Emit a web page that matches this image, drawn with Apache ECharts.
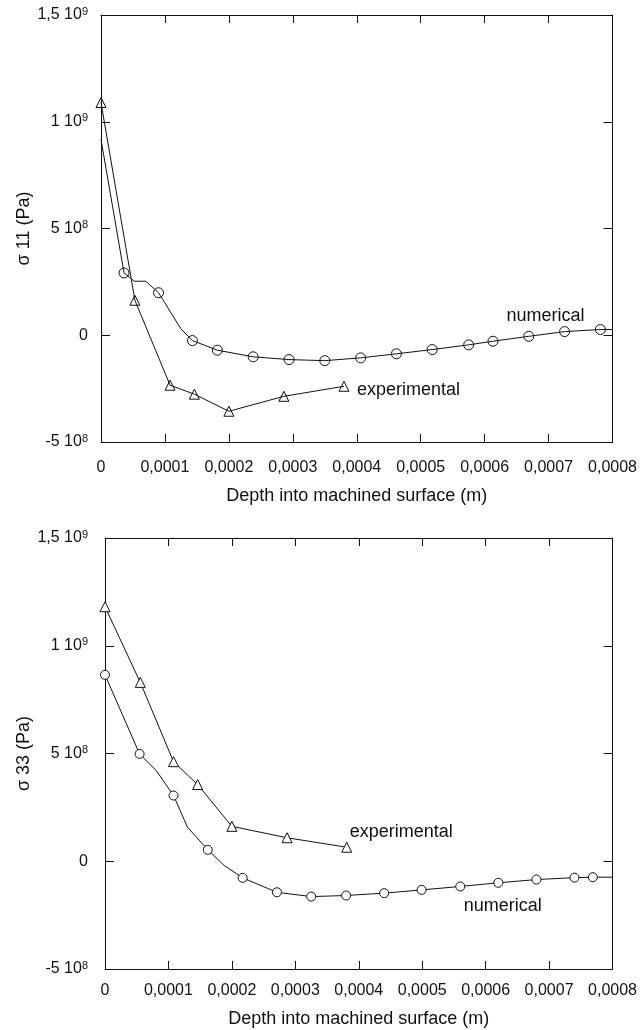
<!DOCTYPE html>
<html>
<head>
<meta charset="utf-8" />
<title>sigma 11 / sigma 33</title>
<script src="https://cdn.jsdelivr.net/npm/echarts@6/dist/echarts.min.js"></script>
<style>
  html, body { margin: 0; padding: 0; background: #fff; }
  #main { width: 640px; height: 1030px; }
</style>
</head>
<body>
<div id="main"></div>
<script type="text/javascript">
// ---- data ----
// top chart: sigma 11
var expX1 = [0, 0.000053, 0.000108, 0.000146, 0.0002, 0.000286, 0.00038];
var expY1 = [1.09e9, 1.64e8, -2.34e8, -2.76e8, -3.56e8, -2.86e8, -2.39e8];
var numX1 = [0, 0.000036, 0.000052, 0.000070, 0.00009, 0.000125, 0.000143, 0.000182, 0.000238, 0.000294, 0.00035, 0.000406, 0.000462, 0.000518, 0.000575, 0.000613, 0.000669, 0.000725, 0.000781, 0.0008];
var numY1 = [9.17e8, 2.92e8, 2.53e8, 2.53e8, 1.99e8, 3e7, -2.5e7, -7e7, -1.01e8, -1.14e8, -1.19e8, -1.06e8, -8.7e7, -6.7e7, -4.5e7, -2.8e7, -5e6, 1.7e7, 2.7e7, 2.7e7];
var numMark1 = [0, 1, 0, 0, 1, 0, 1, 1, 1, 1, 1, 1, 1, 1, 1, 1, 1, 1, 1, 0];

// bottom chart: sigma 33
var expX2 = [0, 0.0000556, 0.000108, 0.000146, 0.0002, 0.000287, 0.000381];
var expY2 = [1.181e9, 8.30e8, 4.62e8, 3.56e8, 1.62e8, 1.09e8, 6.5e7];
var numX2 = [0, 0.0000545, 0.000081, 0.000108, 0.00013, 0.000162, 0.000188, 0.000217, 0.000271, 0.000325, 0.00038, 0.00044, 0.000499, 0.00056, 0.00062, 0.00068, 0.00074, 0.000769, 0.0008];
var numY2 = [8.65e8, 4.98e8, 4.2e8, 3.05e8, 1.58e8, 5.3e7, -2e7, -7.7e7, -1.44e8, -1.64e8, -1.59e8, -1.48e8, -1.33e8, -1.17e8, -1.0e8, -8.5e7, -7.6e7, -7.4e7, -7.4e7];
var numMark2 = [1, 1, 0, 1, 0, 1, 0, 1, 1, 1, 1, 1, 1, 1, 1, 1, 1, 1, 0];

// tick labels
var xTickLabels = ['0', '0,0001', '0,0002', '0,0003', '0,0004', '0,0005', '0,0006', '0,0007', '0,0008'];
var yTickValues = [-5e8, 0, 5e8, 1e9, 1.5e9];
var yTickMant = ['-5 10', '0', '5 10', '1 10', '1,5 10'];
var yTickExp = ['8', '', '8', '9', '9'];

// ---- chart ----
var FONT = '"Liberation Sans", Arial, Helvetica, sans-serif';
var INK = '#111';

function pairs(xs, ys, marks) {
	return xs.map(function (x, i) {
		var item = { value: [x, ys[i]] };
		if (marks && !marks[i]) item.symbol = 'none';
		return item;
	});
}

function xLabel(v) {
	return xTickLabels[Math.round(v / 0.0001)];
}

function yLabel(v) {
	for (var i = 0; i < yTickValues.length; i++) {
		if (Math.abs(v - yTickValues[i]) < 1) {
			return yTickExp[i] ? '{m|' + yTickMant[i] + '}{s|' + yTickExp[i] + '}' : '{m|' + yTickMant[i] + '}';
		}
	}
	return '';
}

function xAxes(gridIndex, labelMargin, nameGap) {
	var common = {
		gridIndex: gridIndex,
		type: 'value',
		min: 0,
		max: 0.0008,
		interval: 0.0001,
		splitLine: { show: false },
		axisLine: { onZero: false, lineStyle: { color: INK, width: 1 } },
		axisTick: { inside: true, length: 8, lineStyle: { color: INK } }
	};
	return [
		Object.assign({}, common, {
			position: 'bottom',
			name: 'Depth into machined surface (m)',
			nameLocation: 'middle',
			nameGap: nameGap,
			nameMoveOverlap: false,
			nameTextStyle: { color: INK, fontSize: 18, fontFamily: FONT },
			axisLabel: {
				color: INK, fontSize: 16, fontFamily: FONT, margin: labelMargin,
				formatter: xLabel, showMinLabel: true, showMaxLabel: true
			}
		}),
		Object.assign({}, common, { position: 'top', axisLabel: { show: false } })
	];
}

function yAxes(gridIndex, name, labelMargin, nameGap) {
	var common = {
		gridIndex: gridIndex,
		type: 'value',
		min: -5e8,
		max: 1.5e9,
		interval: 5e8,
		splitLine: { show: false },
		axisLine: { onZero: false, lineStyle: { color: INK, width: 1 } },
		axisTick: { inside: true, length: 9, lineStyle: { color: INK } }
	};
	return [
		Object.assign({}, common, {
			position: 'left',
			name: name,
			nameLocation: 'middle',
			nameRotate: 90,
			nameGap: nameGap,
			nameMoveOverlap: false,
			nameTextStyle: { color: INK, fontSize: 18, fontFamily: FONT },
			axisLabel: {
				margin: labelMargin,
				formatter: yLabel,
				rich: {
					m: { color: INK, fontSize: 16, fontFamily: FONT },
					s: { color: INK, fontSize: 11, fontFamily: FONT, padding: [0, 0, 7, 0] }
				}
			}
		}),
		Object.assign({}, common, { position: 'right', axisLabel: { show: false } })
	];
}

function note(text, coord) {
	return {
		coord: coord,
		name: text,
		symbol: 'circle',
		symbolSize: 1,
		itemStyle: { color: 'transparent' },
		label: { show: true, position: 'inside', formatter: text, color: INK, fontSize: 18, fontFamily: FONT }
	};
}

function lineSeries(xi, yi, data, symbol, size, fill, notes) {
	return {
		type: 'line',
		xAxisIndex: xi,
		yAxisIndex: yi,
		data: data,
		symbol: symbol,
		symbolSize: size,
		showAllSymbol: true,
		lineStyle: { color: INK, width: 1 },
		itemStyle: { color: fill, borderColor: INK, borderWidth: 1 },
		emphasis: { disabled: true },
		markPoint: { silent: true, data: notes }
	};
}

var myChart = echarts.init(document.getElementById('main'), null, { renderer: 'canvas' });

var option = {
	animation: false,
	backgroundColor: '#fff',
	grid: [
		{ left: 101, top: 15, right: 27, bottom: 588 },
		{ left: 105, top: 538, right: 25, bottom: 61 }
	],
	xAxis: xAxes(0, 18, 45).concat(xAxes(1, 14, 41)),
	yAxis: yAxes(0, 'σ 11 (Pa)', 13, 68).concat(yAxes(1, 'σ 33 (Pa)', 17, 72)),
	series: [
		lineSeries(0, 0, pairs(expX1, expY1), 'triangle', 10, 'none',
			[note('experimental', [0.000481, -2.58e8])]),
		lineSeries(0, 0, pairs(numX1, numY1, numMark1), 'circle', 10, 'none',
			[note('numerical', [0.000695, 8.9e7])]),
		lineSeries(2, 2, pairs(expX2, expY2), 'triangle', 10, '#fff',
			[note('experimental', [0.000467, 1.35e8])]),
		lineSeries(2, 2, pairs(numX2, numY2, numMark2), 'circle', 9, '#fff',
			[note('numerical', [0.000627, -2.09e8])])
	]
};

myChart.setOption(option);
</script>
</body>
</html>
